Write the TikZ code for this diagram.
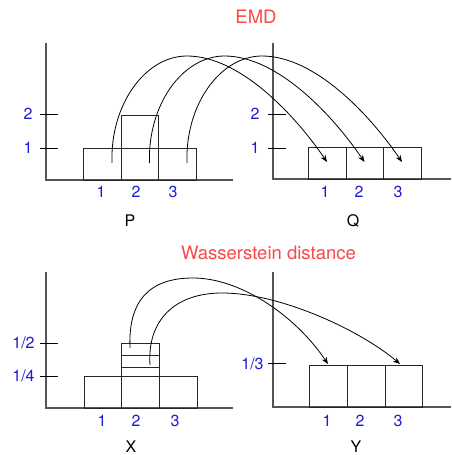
\documentclass[tikz,border=0pt]{standalone}
\usepackage{fontspec}
\setmainfont{TeX Gyre Heros}
\usetikzlibrary{arrows.meta}
\definecolor{numblue}{RGB}{28,28,210}
\definecolor{titlered}{RGB}{250,72,72}
\definecolor{axisgray}{RGB}{85,85,85}
\begin{document}
\begin{tikzpicture}[x=1pt,y=-1pt,
  axisline/.style={draw=axisgray,line width=1.4pt},
  tickline/.style={draw=black,line width=0.9pt},
  bar/.style={draw=black!85,line width=0.9pt},
  num/.style={text=numblue,font=\fontsize{16}{19}\selectfont,inner sep=0pt},
  lbl/.style={text=black,font=\fontsize{16}{19}\selectfont,inner sep=0pt},
  ttl/.style={text=titlered,font=\fontsize{18.5}{22}\selectfont,inner sep=0pt},
  flow/.style={draw=black,line width=0.8pt,-{Stealth[length=7pt,width=5.5pt]}}]
\useasboundingbox (0,0) rectangle (451,455);
\fill[white] (0,0) rectangle (451,455);

% ---------------- EMD ----------------
\node[ttl] (emd) at (256,17) {EMD};
% left axes (P)
\draw[axisline] (46,43) -- (46,180) -- (233,180);
\draw[tickline] (40,114) -- (58,114);
\draw[tickline] (40,148) -- (58,148);
\node[num] (p2) at (28,114) {2};
\node[num] (p1) at (28,148) {1};
\draw[bar] (83,148) rectangle (121,180);
\draw[bar] (121,148) rectangle (158,180);
\draw[bar] (121,115) rectangle (158,148);
\draw[bar] (158,148) rectangle (196,180);
\node[num] (px1) at (101,192) {1};
\node[num] (px2) at (136,192) {2};
\node[num] (px3) at (173,192) {3};
\node[lbl] (P) at (130,221) {P};
% right axes (Q)
\draw[axisline] (273,43) -- (273,179) -- (451,179);
\draw[tickline] (268,114) -- (286,114);
\draw[tickline] (268,148) -- (286,148);
\node[num] (q2) at (255,114) {2};
\node[num] (q1) at (255,148) {1};
\draw[bar] (308,147) rectangle (346,179);
\draw[bar] (346,147) rectangle (383,179);
\draw[bar] (383,147) rectangle (421,179);
\node[num] (qx1) at (325,192) {1};
\node[num] (qx2) at (359,192) {2};
\node[num] (qx3) at (398,192) {3};
\node[lbl] (Q) at (353,221) {Q};
% flows
\coordinate (s1) at (112,163); \coordinate (t1) at (327,162);
\coordinate (s2) at (149.5,163); \coordinate (t2) at (364.5,162);
\coordinate (s3) at (187,163); \coordinate (t3) at (402,162);
\foreach \s/\t/\d in {s1/t1/0,s2/t2/37.5,s3/t3/75}{
  \draw[flow] (\s) .. controls ([xshift=-2pt]\s |- 0,105) and (145+\d,56) .. (187+\d,56)
     .. controls (240+\d,56) and (295+\d,115) .. (\t);
}

% ---------------- Wasserstein ----------------
\node[ttl] (wd) at (268.5,253) {Wasserstein distance};
% left axes (X)
\draw[axisline] (46,272) -- (46,408) -- (233,408);
\draw[tickline] (40,343) -- (58,343);
\draw[tickline] (40,376) -- (58,376);
\node[num] (xh) at (23.5,343) {1/2};
\node[num] (xq) at (23.5,376) {1/4};
\draw[bar] (84,376) rectangle (121.5,408);
\draw[bar] (121.5,376) rectangle (159,408);
\draw[bar] (159,376) rectangle (197,408);
\draw[bar] (121.5,343.5) rectangle (159,376);
\draw[bar] (121.5,355.5) -- (160,355.5);
\draw[bar] (121.5,367.5) -- (159,367.5);
\node[num] (xx1) at (102,421) {1};
\node[num] (xx2) at (136,421) {2};
\node[num] (xx3) at (175,421) {3};
\node[lbl] (X) at (131,447) {X};
% right axes (Y)
\draw[axisline] (273,272) -- (273,407) -- (451,407);
\draw[tickline] (268,363) -- (286,363);
\node[num] (yt) at (252.5,363.5) {1/3};
\draw[bar] (309,365) rectangle (347,407);
\draw[bar] (347,365) rectangle (385,407);
\draw[bar] (385,365) rectangle (422,407);
\node[num] (yx1) at (327,421) {1};
\node[num] (yx2) at (360,421) {2};
\node[num] (yx3) at (398,421) {3};
\node[lbl] (Y) at (356,447) {Y};
% flows
\coordinate (u1) at (130,348); \coordinate (v1) at (328,364);
\coordinate (u2) at (150,365); \coordinate (v2) at (400,364);
\draw[flow] (u1) .. controls (128,300) and (150,278) .. (193,278)
   .. controls (240,278) and (295,315) .. (v1);
\draw[flow] (u2) .. controls (147,320) and (175,293) .. (222,293)
   .. controls (280,293) and (360,330) .. (v2);
\end{tikzpicture}
\end{document}
